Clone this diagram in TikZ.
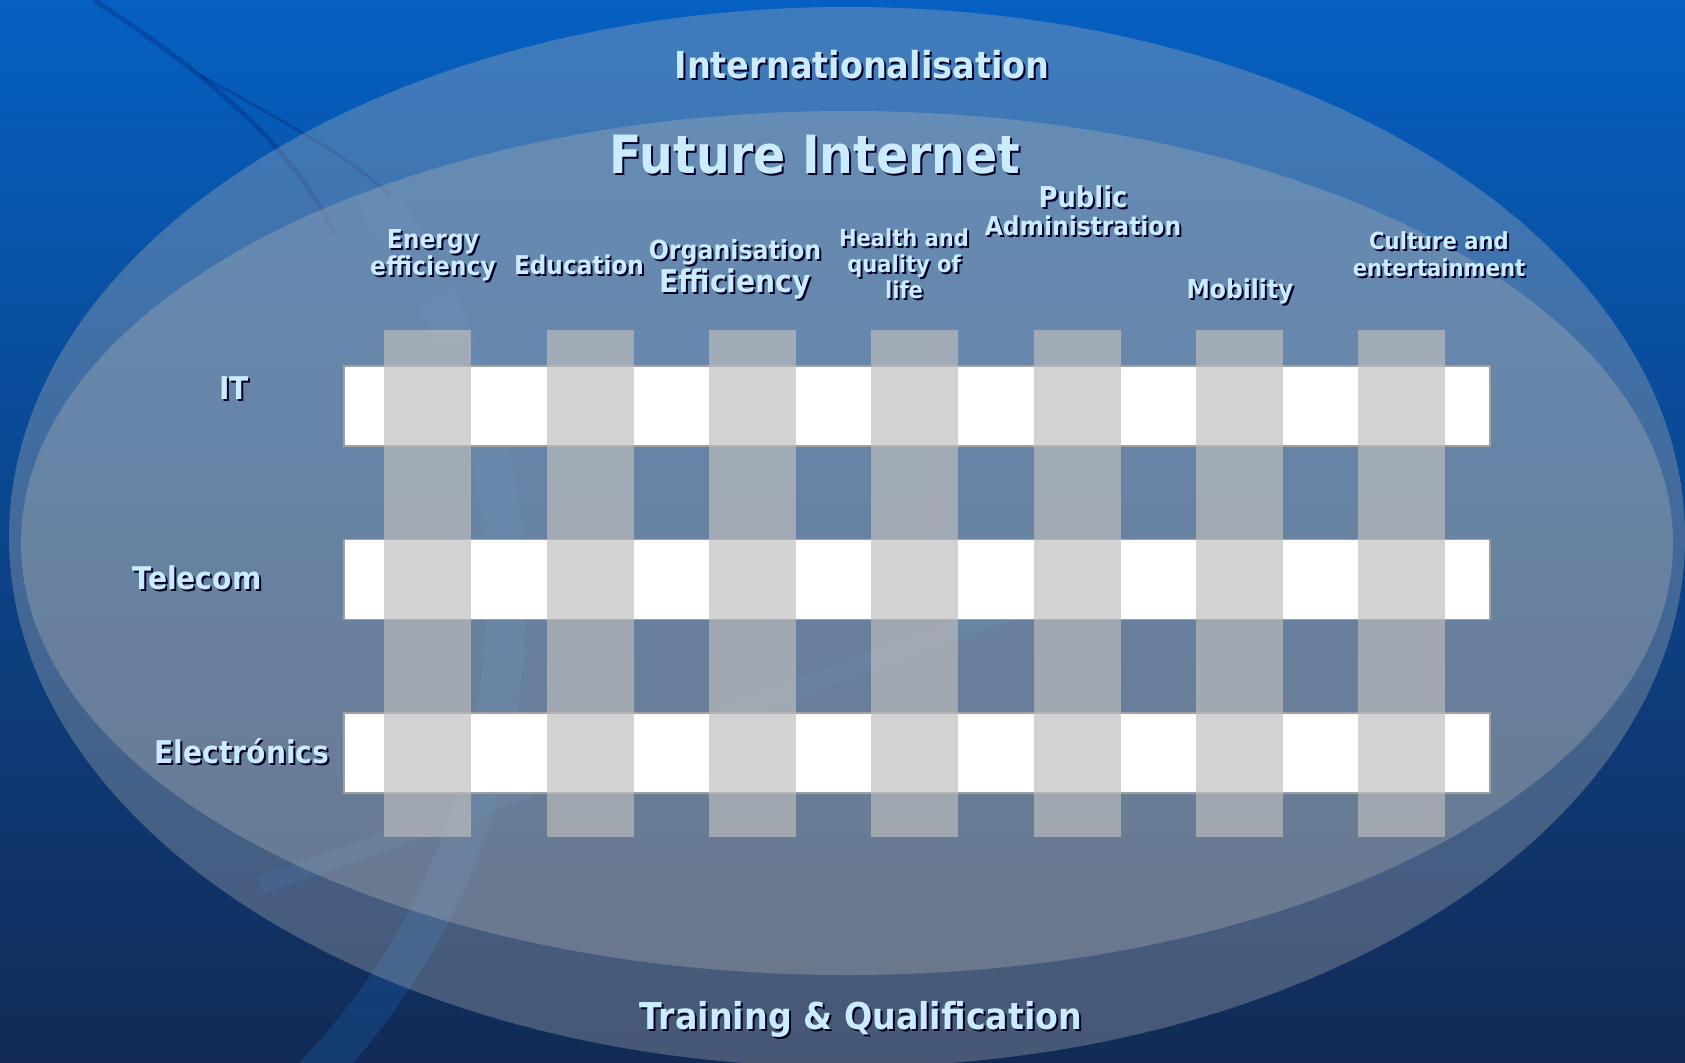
\documentclass[tikz,border=0pt]{standalone}
\usepackage{fontspec}
\setmainfont{DejaVu Sans}[FakeStretch=0.9]
\usetikzlibrary{positioning}

\definecolor{bgtop}{HTML}{0560C2}
\definecolor{bgmid}{HTML}{0A4C98}
\definecolor{bgbot}{HTML}{122A55}
\definecolor{lbltxt}{HTML}{CBEBFF}
\definecolor{barline}{HTML}{A0A0A0}
\definecolor{ringgray}{gray}{0.72}
\definecolor{colgray}{gray}{0.74}

% text with a dark drop shadow
\newcommand\shlbl[4][]{%
  \node[lbl,shadowtxt,#1] (#2-sh) at #3 {#4};
  \node[lbl,#1] (#2) at #3 {#4};}

\begin{document}
\begin{tikzpicture}[x=1pt,y=-1pt,
  lbl/.style={text=lbltxt,align=center,inner sep=0pt},
  shadowtxt/.style={text=black!85!blue,xshift=2pt,yshift=-2pt},
  fs/.style 2 args={font=\bfseries\fontsize{#1}{#2}\selectfont},
  ring/.style={fill=ringgray,fill opacity=0.32},
  swoosh/.style={draw=cyan!45!blue,line width=#1,opacity=0.28},
  darkline/.style={draw=black!70!blue,line width=5pt,opacity=0.2},
  barbox/.style={draw=barline,line width=1.5pt,fill=white,anchor=north west,
    minimum width=1146pt,minimum height=80pt,inner sep=0pt},
  colbox/.style={fill=colgray,fill opacity=0.67,anchor=north west,
    minimum width=87pt,minimum height=507pt,inner sep=0pt}]

\useasboundingbox (0,0) rectangle (1685,1062);
\clip (0,0) rectangle (1685,1062);

% background
\fill[top color=bgtop,middle color=bgmid,bottom color=bgbot] (0,0) rectangle (1685,1062);
\draw[swoosh=40pt,opacity=0.12] (-180,600) ++(-36:686) arc[start angle=-36,end angle=-26,radius=686];
\draw[swoosh=40pt] (-180,600) ++(-26:686) arc[start angle=-26,end angle=70,radius=686];
\draw[swoosh=18pt,opacity=0.18] (260,885) .. controls (500,805) and (750,700) .. (1010,612);
\draw[darkline] (94,0) .. controls (200,70) and (290,140) .. (335,235);
\draw[darkline,line width=3pt] (200,75) .. controls (280,120) and (340,150) .. (390,195);

% the two ellipses
\fill[ring] (847,537) ellipse[x radius=838,y radius=530];
\fill[ring] (847,543) ellipse[x radius=826,y radius=432];

% rows
\foreach \r/\y in {IT/365,Tel/538.5,El/712}
  \node[barbox] (bar-\r) at (343,\y) {};

% columns
\foreach \i in {0,...,6}
  \node[colbox] (col\i) at ({384+162.33*\i},330) {};

% titles
\shlbl[fs={37.2}{44},anchor=base]{intl}{(862,79)}{Internationalisation}
\shlbl[fs={52.7}{60},anchor=base]{fi}{(815,173)}{Future Internet}
\shlbl[fs={37}{44},anchor=base]{tq}{(861,1029)}{Training \& Qualification}

% column labels
\shlbl[fs={26}{27},anchor=north]{energy}{(433,229)}{Energy\\efficiency}
\shlbl[fs={25.8}{27},anchor=base]{edu}{(579,274)}{Education}
\shlbl[fs={26.3}{33},anchor=north]{org}{(735,239.5)}{Organisation\\{\fontsize{31.3}{33}\selectfont Efficiency}}
\shlbl[fs={23.4}{26},anchor=north]{health}{(904,229)}{Health and\\quality of\\life}
\shlbl[fs={26}{28},anchor=north]{public}{(1083,185)}{{\fontsize{28.7}{28}\selectfont Public}\\Administration}
\shlbl[fs={26.1}{27},anchor=base]{mob}{(1240,298)}{Mobility}
\shlbl[fs={23.5}{27},anchor=north]{culture}{(1439,231)}{Culture and\\entertainment}

% row labels
\shlbl[fs={31.3}{36},anchor=base]{it}{(234,399)}{IT}
\shlbl[fs={31.3}{36},anchor=base]{tel}{(197,589)}{Telecom}
\shlbl[fs={31.3}{36},anchor=base]{el}{(242,763)}{Electrónics}

\end{tikzpicture}
\end{document}
